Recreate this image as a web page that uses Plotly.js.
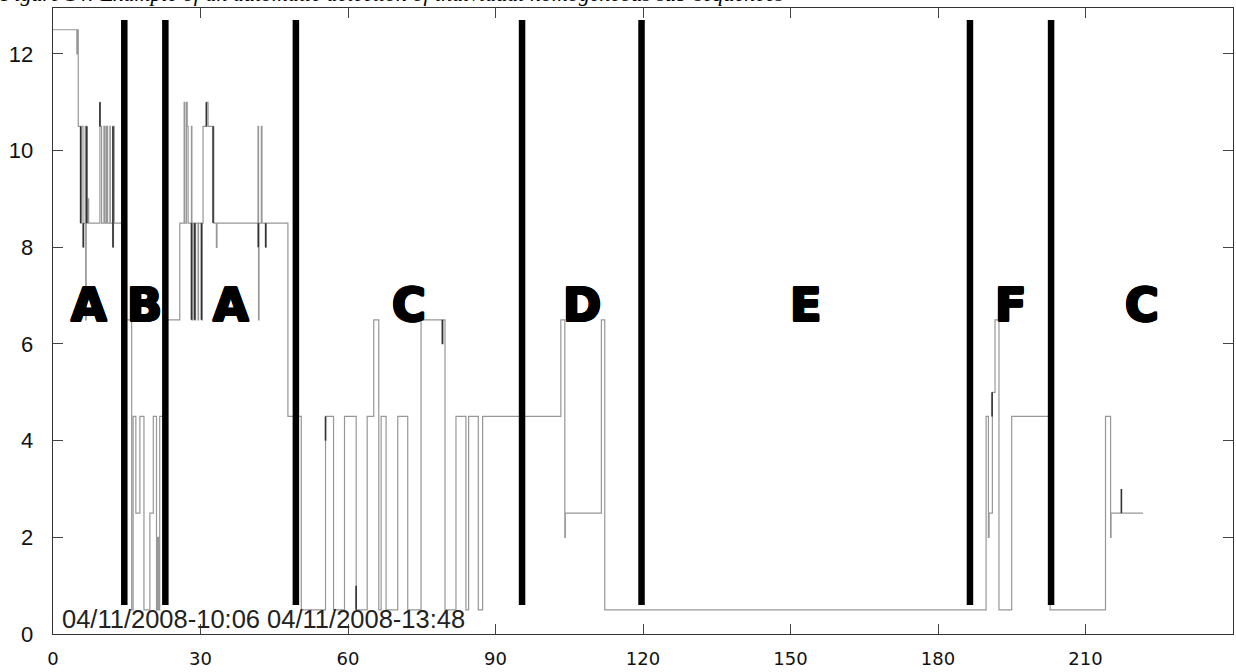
<!DOCTYPE html>
<html>
<head>
<meta charset="utf-8">
<script src="https://cdn.plot.ly/plotly-3.0.1.min.js"></script>
<style>html,body{margin:0;padding:0;background:#fff;}#chart{width:1236px;height:672px;}</style>
</head>
<body>
<div id="chart"></div>
<script>
// Step series (x = time index, y = level), drawn with 'hv' steps
const seriesX = [0, 4.85, 4.95, 5.14, 5.62, 5.75, 6.1, 6.16, 6.25, 6.55, 6.65, 6.75, 6.84, 6.95, 7.17, 7.25,
  9.54, 9.6, 9.88, 10.36, 10.45, 10.76, 10.85, 11.0, 11.1, 11.57, 11.65, 12.12, 12.2, 12.3, 12.39, 12.45,
  14.0, 16.0, 16.3, 16.85, 17.67, 18.5, 19.7, 20.4, 21.05, 21.3, 21.45, 21.7, 22.5,
  25.79, 26.67, 26.8, 27.14, 27.3, 27.48, 28.16, 28.25, 28.5, 28.83, 29.0, 29.51, 29.6, 30.2, 30.35, 30.52,
  31.2, 31.54, 32.7, 33.23, 33.35, 41.7, 41.8, 41.9, 42.37, 42.5, 43.25, 43.35, 47.78,
  50.5, 55.43, 57.06, 59.29, 61.66, 63.9, 65.24, 66.26, 66.74, 67.75, 70.12, 72.15, 74.86, 79.2, 79.3,
  79.73, 81.96, 83.99, 84.53, 86.5, 87.38, 103.29, 104.1, 104.2, 111.53, 112.22,
  189.78, 190.25, 190.4, 191.06, 191.6, 192.4, 194.99, 202.8, 214.07, 215.1, 215.2, 221.7];
const seriesY = [12.5, 12.0, 12.5, 10.5, 8.5, 10.5, 8.5, 8.0, 8.5, 10.5, 6.5, 8.5, 10.5, 8.5, 9.0, 8.5,
  11.0, 10.5, 8.5, 10.5, 8.5, 10.5, 8.5, 10.5, 8.5, 10.5, 8.5, 10.5, 8.0, 8.5, 10.5, 8.5,
  6.5, 0.5, 4.5, 2.5, 4.5, 0.5, 2.5, 4.5, 0.5, 2.0, 0.5, 4.5, 6.5,
  8.5, 11.0, 8.5, 11.0, 10.5, 8.5, 10.5, 6.5, 8.5, 6.5, 8.5, 6.5, 8.5, 6.5, 8.5, 10.5,
  11.0, 10.5, 8.5, 8.0, 8.5, 10.5, 6.5, 8.5, 10.5, 8.5, 8.0, 8.5, 4.5,
  0.5, 4.5, 0.5, 4.5, 0.5, 4.5, 6.5, 0.5, 4.5, 0.5, 4.5, 0.5, 6.5, 6.0, 6.5,
  0.5, 4.5, 0.5, 4.5, 0.5, 4.5, 6.5, 2.0, 2.5, 6.5, 0.5,
  4.5, 2.0, 2.5, 5.0, 6.5, 0.5, 4.5, 0.5, 4.5, 2.0, 2.5, 2.5];

// darker overlapping strokes
const darkX  = [5.62, 6.16, 6.84, 9.54, 12.2, 28.16, 28.83, 30.2, 31.2, 32.55, 41.75, 43.25, 55.43, 61.66, 79.2, 191.0, 217.3];
const darkY0 = [8.5, 8.0, 8.5, 10.5, 8.0, 6.5, 6.5, 6.5, 10.5, 8.5, 8.0, 8.0, 4.0, 0.5, 6.0, 4.5, 2.5];
const darkY1 = [10.5, 8.5, 10.5, 11.0, 10.5, 8.5, 8.5, 8.5, 11.0, 10.5, 8.5, 8.5, 4.5, 1.0, 6.5, 5.0, 3.0];

// detected change points and segment labels
const changePoints = [14.5, 22.85, 49.4, 95.4, 119.7, 186.5, 203.0];
const segLabels = ['A', 'B', 'A', 'C', 'D', 'E', 'F', 'C'];
const xTicks = [0, 30, 60, 90, 120, 150, 180, 210];
const yTicks = [0, 2, 4, 6, 8, 10, 12];
const dateText = '04/11/2008-10:06 04/11/2008-13:48';
const titleText = 'Figure 14: Example of an automatic detection of individual homogeneous sub-sequences';

const X_MAX = 240, Y_MAX = 12.95;

const barX = [], barY = [];
changePoints.forEach(c => { barX.push(c, c, null); barY.push(0.6, 12.7, null); });

const dX = [], dY = [];
darkX.forEach((x, i) => { dX.push(x, x, null); dY.push(darkY0[i], darkY1[i], null); });

const bounds = [0].concat(changePoints, [X_MAX]);
const heavy = '1.2px 0 0 #000, -1.2px 0 0 #000, 0 1.2px 0 #000, 0 -1.2px 0 #000, 1px 1px 0 #000, -1px -1px 0 #000, 1px -1px 0 #000, -1px 1px 0 #000';
const annotations = segLabels.map((t, i) => ({
  x: (bounds[i] + bounds[i + 1]) / 2, y: 6.8, xref: 'x', yref: 'y',
  text: t, showarrow: false, xanchor: 'center', yanchor: 'middle',
  font: {family: 'DejaVu Sans', size: 46, color: '#000', weight: 900, shadow: heavy}
}));
annotations.push({
  x: 1.45, y: 0.31, xref: 'x', yref: 'y', text: dateText, showarrow: false,
  xanchor: 'left', yanchor: 'middle',
  font: {family: 'Liberation Sans', size: 25.5, color: '#222'}
});
annotations.push({
  x: -55 / 1180, y: 1.0, xref: 'paper', yref: 'paper', text: titleText, showarrow: false,
  xanchor: 'left', yanchor: 'bottom',
  font: {family: 'Liberation Serif', size: 22, color: '#000', style: 'italic'}
});

const traces = [
  {x: seriesX, y: seriesY, type: 'scatter', mode: 'lines', line: {shape: 'hv', color: '#979797', width: 1.2}, hoverinfo: 'skip'},
  {x: dX, y: dY, type: 'scatter', mode: 'lines', line: {color: '#333', width: 1.6}, connectgaps: false, hoverinfo: 'skip'},
  {x: barX, y: barY, type: 'scatter', mode: 'lines', line: {color: '#000', width: 6.5}, connectgaps: false, hoverinfo: 'skip'}
];

const axisCommon = {
  showgrid: false, zeroline: false, showline: true, linecolor: '#333', linewidth: 1.3,
  mirror: 'ticks', ticks: 'inside', ticklen: 10, tickwidth: 1, tickcolor: '#444'
};

const layout = {
  width: 1236, height: 672,
  margin: {l: 53, r: 3, t: 8, b: 38},
  paper_bgcolor: '#fff', plot_bgcolor: '#fff',
  showlegend: false,
  xaxis: Object.assign({}, axisCommon, {
    range: [0, X_MAX], tickvals: xTicks, ticktext: xTicks.map(String),
    ticklabelstandoff: 8,
    tickfont: {family: 'DejaVu Sans', size: 18, color: '#111'}
  }),
  yaxis: Object.assign({}, axisCommon, {
    range: [0, Y_MAX], tickvals: yTicks, ticktext: yTicks.map(String),
    ticklabelstandoff: 14,
    tickfont: {family: 'Liberation Sans', size: 22, color: '#111'}
  }),
  annotations: annotations
};

Plotly.newPlot('chart', traces, layout, {staticPlot: true, displayModeBar: false});
</script>
</body>
</html>
